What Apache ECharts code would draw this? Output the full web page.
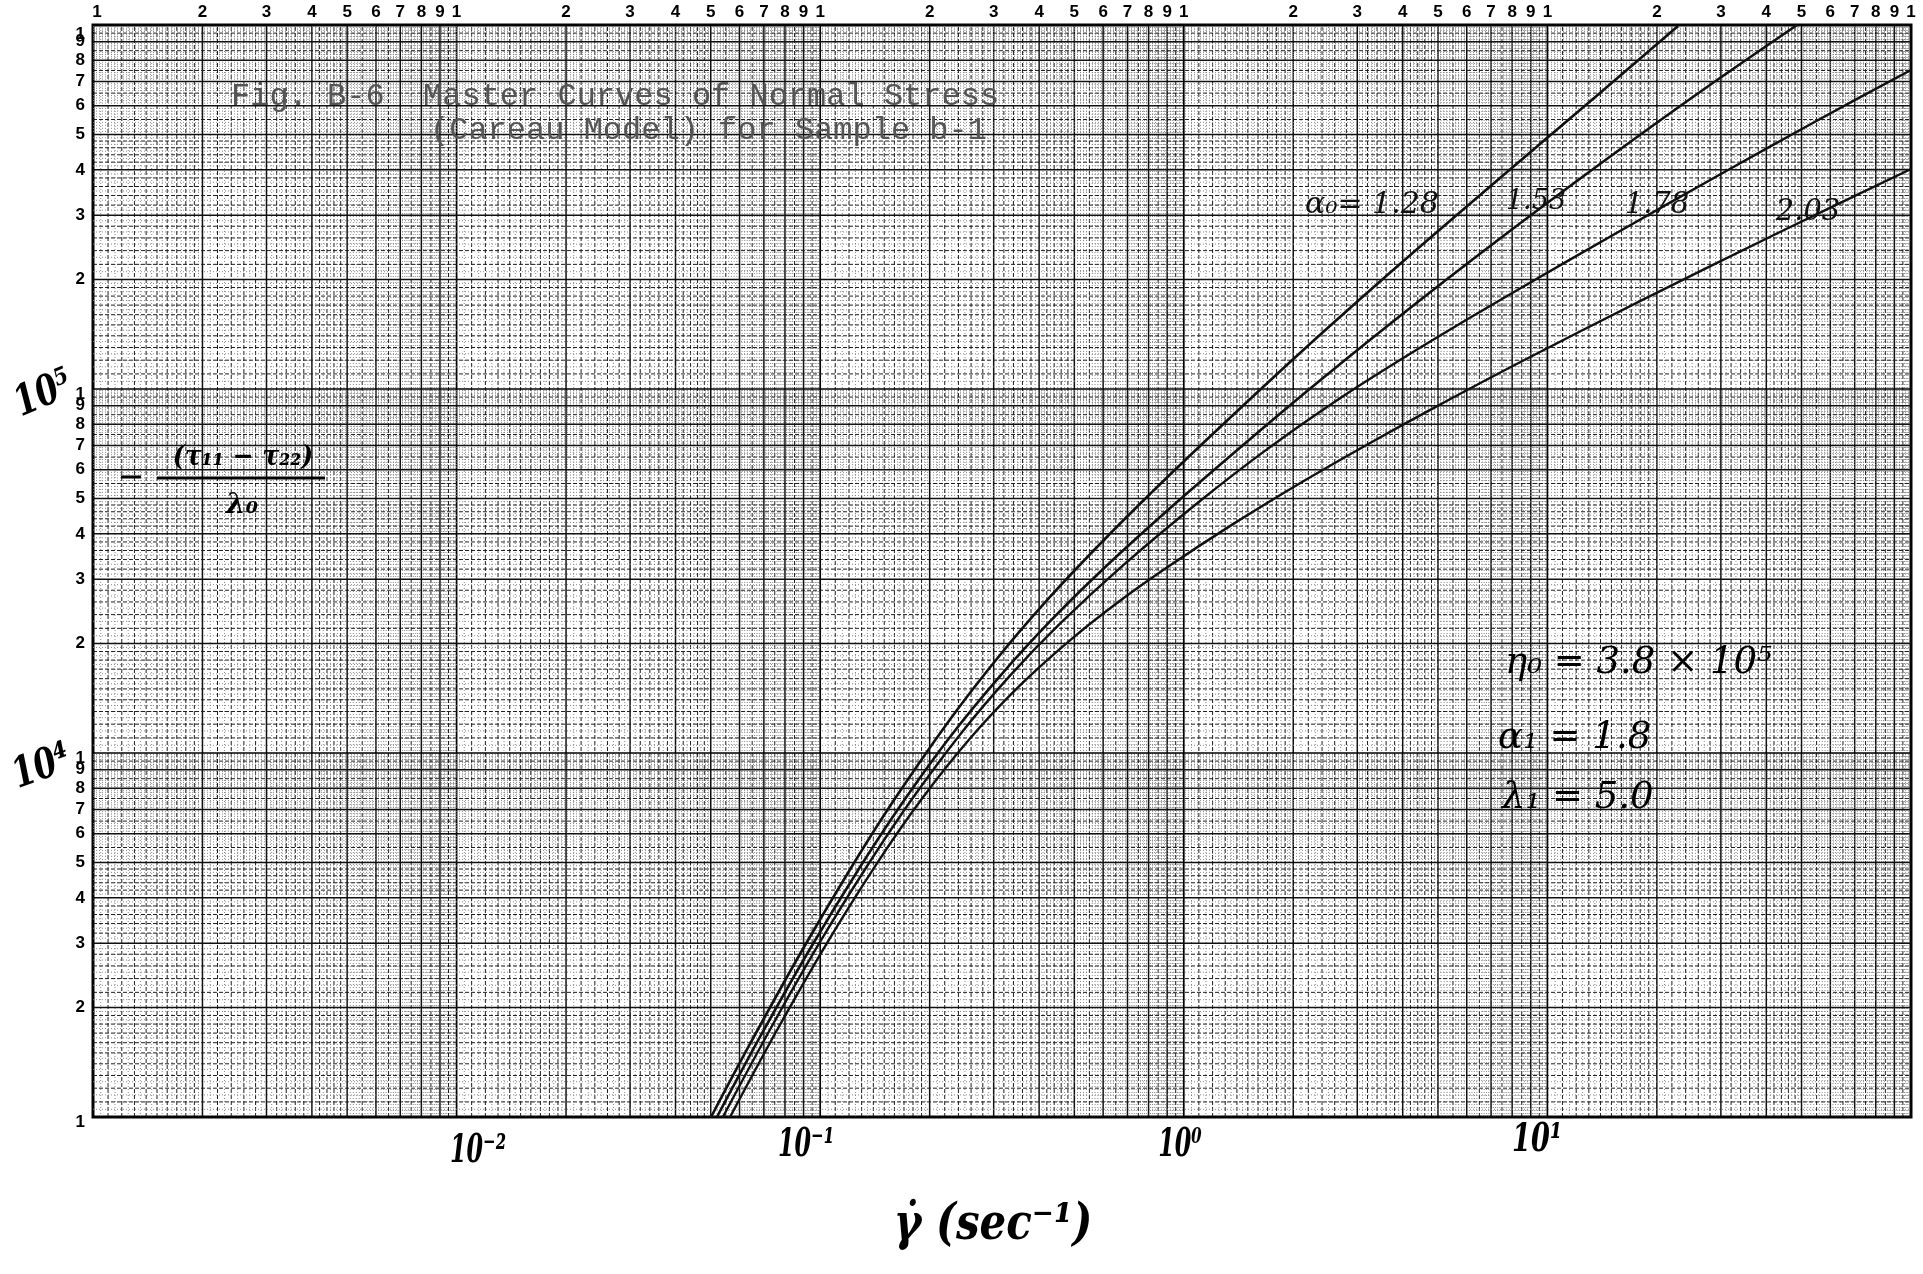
<!DOCTYPE html>
<html>
<head>
<meta charset="utf-8">
<title>Fig. B-6 Master Curves of Normal Stress</title>
<script src="https://cdn.jsdelivr.net/npm/echarts@6/dist/echarts.min.js"></script>
<style>
  html, body { margin: 0; padding: 0; background: #fff; }
  #chart { width: 1923px; height: 1274px; }
</style>
</head>
<body>
<div id="chart"></div>
<script>
// axis range of the log-log paper (5 cycles x 3 cycles)
const X_MIN = 1e-3, X_MAX = 1e2
const Y_MIN = 1e3, Y_MAX = 1e6

// curves, one per alpha value
const curve128X = [0.0501, 0.0641, 0.0880, 0.1208, 0.1576, 0.2275, 0.3123, 0.4285, 0.5882, 0.8072, 1.108, 2.087, 3.931, 7.407, 13.95, 22.87]
const curve128Y = [1000, 1587, 2804, 4786, 7288, 12360, 18590, 26830, 37510, 51460, 69740, 125600, 220500, 379900, 650500, 993800]

const curve153X = [0.0520, 0.0683, 0.0937, 0.1287, 0.1689, 0.2275, 0.3123, 0.4285, 0.5882, 0.8072, 1.108, 2.087, 3.931, 7.407, 13.95, 26.28, 48.6]
const curve153Y = [1000, 1659, 2894, 4863, 7336, 11070, 16270, 22980, 31420, 42030, 55530, 95070, 158700, 259100, 415100, 654600, 1000000]

const curve178X = [0.0540, 0.0728, 0.0999, 0.1371, 0.1789, 0.2423, 0.3327, 0.4565, 0.6805, 1.108, 1.693, 2.689, 3.931, 6.009, 8.407, 15.84, 29.83, 56.2, 100]
const curve178Y = [1000, 1739, 3026, 5034, 7475, 11230, 16310, 22660, 32760, 49240, 68260, 94290, 120100, 155200, 188800, 271800, 388400, 551900, 752200]

const curve203X = [0.0565, 0.0751, 0.1031, 0.1415, 0.1893, 0.2582, 0.3543, 0.4864, 0.6676, 0.9049, 1.3655, 2.087, 3.191, 4.846, 8.407, 18.32, 43.62, 100]
const curve203Y = [1000, 1693, 2944, 4884, 7428, 10960, 15330, 20400, 26190, 32490, 42540, 55110, 70310, 88450, 118400, 176000, 269900, 402100]

// printed cycle digits of the paper
const cycleDigits = [1, 2, 3, 4, 5, 6, 7, 8, 9]

// paper rulings inside one cycle (mantissa) by weight
const rule1 = [2, 3, 4, 5, 6, 7, 8, 9]
const rule2 = [1.1, 1.2, 1.3, 1.4, 1.5, 1.6, 1.7, 1.8, 1.9, 2.2, 2.4, 2.6, 2.8, 3.2, 3.4, 3.6, 3.8, 4.2, 4.4, 4.6, 4.8, 5.5, 6.5, 7.5, 8.5, 9.5]
const rule3 = [1.05, 1.15, 1.25, 1.35, 1.45, 1.55, 1.65, 1.75, 1.85, 1.95,
  2.1, 2.3, 2.5, 2.7, 2.9, 3.1, 3.3, 3.5, 3.7, 3.9, 4.1, 4.3, 4.5, 4.7, 4.9,
  5.1, 5.2, 5.3, 5.4, 5.6, 5.7, 5.8, 5.9, 6.1, 6.2, 6.3, 6.4, 6.6, 6.7, 6.8, 6.9,
  7.1, 7.2, 7.3, 7.4, 7.6, 7.7, 7.8, 7.9, 8.1, 8.2, 8.3, 8.4, 8.6, 8.7, 8.8, 8.9,
  9.1, 9.2, 9.3, 9.4, 9.6, 9.7, 9.8, 9.9]

const GRID_STYLES = [
  { stroke: '#000', lineWidth: 1.7 },
  { stroke: '#111', lineWidth: 1.5 },
  { stroke: '#1e1e1e', lineWidth: 1, lineDash: [4, 2] },
  { stroke: '#7e7e7e', lineWidth: 0.9, lineDash: [1, 2] }
]

function rulings(kFrom, kTo) {
  const out = []
  for (let k = kFrom; k < kTo; k++) {
    const b = Math.pow(10, k)
    out.push([b, 0])
    rule1.forEach(m => out.push([m * b, 1]))
    rule2.forEach(m => out.push([m * b, 2]))
    rule3.forEach(m => out.push([m * b, 3]))
  }
  out.push([Math.pow(10, kTo), 0])
  // light rulings first so the heavy ones stay on top
  return out.sort((a, b) => b[1] - a[1])
}

function digits(kFrom, kTo) {
  const out = []
  for (let k = kFrom; k < kTo; k++) {
    cycleDigits.forEach(d => out.push([d * Math.pow(10, k), d]))
  }
  out.push([Math.pow(10, kTo), 1])
  return out
}

const xRules = rulings(-3, 2).map(r => [r[0], Y_MIN, r[1]])
const yRules = rulings(3, 6).map(r => [X_MIN, r[0], r[1]])
const topDigits = digits(-3, 2).map(d => [d[0], Y_MAX, d[1]])
const leftDigits = digits(3, 6).map(d => [X_MIN, d[0], d[1]])

const zip = (xs, ys) => xs.map((x, i) => [x, ys[i]])

const chart = echarts.init(document.getElementById('chart'))

const hand = '"DejaVu Serif", "Liberation Serif", serif'

// handwritten label helper: centred, optionally squeezed/tilted
function pen(text, x, y, size, opts) {
  opts = opts || {}
  return {
    type: 'text', z: 10, x: x, y: y,
    rotation: opts.rot || 0, scaleX: opts.sx || 1, scaleY: opts.sy || 1,
    style: {
      text: text, x: 0, y: 0, align: opts.align || 'center', verticalAlign: 'middle',
      font: (opts.weight || 'italic bold') + ' ' + size + 'px ' + hand, fill: opts.fill || '#000'
    }
  }
}

const option = {
  animation: false,
  backgroundColor: '#fff',
  grid: { left: 93, top: 25, width: 1818, height: 1092, containLabel: false, show: true, borderColor: '#000', borderWidth: 3, backgroundColor: '#fff' },
  xAxis: {
    type: 'log', logBase: 10, min: X_MIN, max: X_MAX,
    axisLine: { show: false }, axisTick: { show: false },
    axisLabel: { show: false }, splitLine: { show: false }
  },
  yAxis: {
    type: 'log', logBase: 10, min: Y_MIN, max: Y_MAX,
    axisLine: { show: false }, axisTick: { show: false },
    axisLabel: { show: false }, splitLine: { show: false }
  },
  series: [
    {
      type: 'custom', silent: true, z: 1,
      data: xRules,
      encode: { x: 0, y: 1 },
      renderItem: (params, api) => {
        const a = api.coord([api.value(0), Y_MIN])
        const b = api.coord([api.value(0), Y_MAX])
        return { type: 'line', shape: { x1: a[0], y1: a[1], x2: b[0], y2: b[1] }, style: GRID_STYLES[api.value(2)] }
      }
    },
    {
      type: 'custom', silent: true, z: 1,
      data: yRules,
      encode: { x: 0, y: 1 },
      renderItem: (params, api) => {
        const a = api.coord([X_MIN, api.value(1)])
        const b = api.coord([X_MAX, api.value(1)])
        return { type: 'line', shape: { x1: a[0], y1: a[1], x2: b[0], y2: b[1] }, style: GRID_STYLES[api.value(2)] }
      }
    },
    {
      type: 'custom', silent: true, z: 3,
      data: topDigits,
      encode: { x: 0, y: 1 },
      renderItem: (params, api) => {
        const p = api.coord([api.value(0), api.value(1)])
        const first = params.dataIndex === 0
        return {
          type: 'text',
          style: {
            text: String(api.value(2)), x: p[0] + (first ? 4 : 0), y: p[1] - 13,
            align: 'center', verticalAlign: 'middle',
            font: 'bold 17px "Liberation Sans", Arial, sans-serif', fill: '#000'
          }
        }
      }
    },
    {
      type: 'custom', silent: true, z: 3,
      data: leftDigits,
      encode: { x: 0, y: 1 },
      renderItem: (params, api) => {
        const p = api.coord([api.value(0), api.value(1)])
        const isTop = api.value(1) >= Y_MAX
        const isOne = api.value(2) === 1
        return {
          type: 'text',
          style: {
            text: String(api.value(2)), x: p[0] - 8, y: p[1] + (isTop ? 9 : (isOne ? 5 : 0)),
            align: 'right', verticalAlign: 'middle',
            font: 'bold 17px "Liberation Sans", Arial, sans-serif', fill: '#000'
          }
        }
      }
    },
    { name: 'α=1.28', type: 'line', z: 5, data: zip(curve128X, curve128Y), showSymbol: false, smooth: 0.3, lineStyle: { color: '#111', width: 2.6 } },
    { name: 'α=1.53', type: 'line', z: 5, data: zip(curve153X, curve153Y), showSymbol: false, smooth: 0.3, lineStyle: { color: '#111', width: 2.6 } },
    { name: 'α=1.78', type: 'line', z: 5, data: zip(curve178X, curve178Y), showSymbol: false, smooth: 0.3, lineStyle: { color: '#111', width: 2.4 } },
    { name: 'α=2.03', type: 'line', z: 5, data: zip(curve203X, curve203Y), showSymbol: false, smooth: 0.3, lineStyle: { color: '#111', width: 2.4 } }
  ],
  graphic: [
    // typed caption
    { type: 'text', z: 10, style: { text: 'Fig. B-6  Master Curves of Normal Stress', x: 231, y: 97, verticalAlign: 'middle', font: '32px "Liberation Mono", "DejaVu Sans Mono", monospace', fill: '#555' } },
    { type: 'text', z: 10, style: { text: '(Careau Model) for Sample b-1', x: 430, y: 131, verticalAlign: 'middle', font: '32px "Liberation Mono", "DejaVu Sans Mono", monospace', fill: '#555' } },

    // handwritten y decades
    pen('10⁵', 44, 395, 38, { rot: 0.4, sx: 0.85, sy: 1.1 }),
    pen('10⁴', 42, 768, 38, { rot: 0.35, sx: 0.85, sy: 1.1 }),

    // handwritten y title
    { type: 'line', z: 10, shape: { x1: 121, y1: 477, x2: 141, y2: 477 }, style: { stroke: '#000', lineWidth: 3 } },
    { type: 'line', z: 10, shape: { x1: 157, y1: 478, x2: 325, y2: 478 }, style: { stroke: '#000', lineWidth: 3 } },
    pen('(τ₁₁ − τ₂₂)', 243, 458, 28, { sx: 0.9 }),
    pen('λ₀', 242, 506, 28),

    // handwritten x decades and title
    pen('10⁻²', 478, 1152, 34, { sx: 0.7, sy: 1.15 }),
    pen('10⁻¹', 806, 1146, 34, { sx: 0.7, sy: 1.15 }),
    pen('10⁰', 1180, 1146, 34, { sx: 0.7, sy: 1.15 }),
    pen('10¹', 1537, 1141, 34, { sx: 0.8, sy: 1.15 }),
    pen('γ̇ (sec⁻¹)', 993, 1226, 42, { sy: 1.2 }),

    // curve labels
    pen('α₀= 1.28', 1372, 205, 30, { weight: 'italic', fill: '#111' }),
    pen('1.53', 1536, 202, 27, { weight: 'italic', fill: '#111' }),
    pen('1.78', 1657, 205, 29, { weight: 'italic', fill: '#111' }),
    pen('2.03', 1808, 212, 29, { weight: 'italic', fill: '#111' }),

    // model parameters
    pen('η₀ = 3.8 × 10⁵', 1505, 663, 37, { weight: 'italic', align: 'left' }),
    pen('α₁ = 1.8', 1498, 738, 37, { weight: 'italic', align: 'left' }),
    pen('λ₁ = 5.0', 1502, 798, 37, { weight: 'italic', align: 'left' })
  ]
}

chart.setOption(option)
</script>
</body>
</html>
